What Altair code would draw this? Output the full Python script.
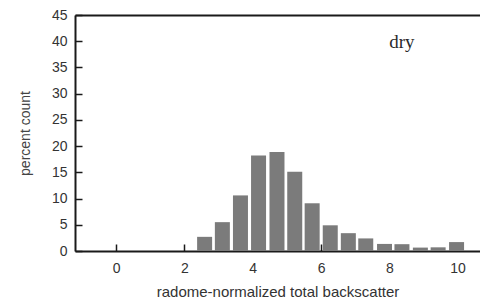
import altair as alt
import pandas as pd

# bin centres (x) and percent counts (y)
centers = [2.59, 3.11, 3.64, 4.17, 4.71, 5.23, 5.74, 6.27, 6.80, 7.31, 7.86, 8.37, 8.91, 9.43, 9.97]
percents = [2.7, 5.5, 10.6, 18.2, 18.9, 15.1, 9.1, 4.9, 3.4, 2.4, 1.35, 1.3, 0.65, 0.7, 1.7]
x_ticks = [0, 2, 4, 6, 8, 10]
y_ticks = [0, 5, 10, 15, 20, 25, 30, 35, 40, 45]
label_text = ["dry"]
label_x = [8.37]
label_y = [38.8]

df = pd.DataFrame({"x": centers, "y": percents})
lab = pd.DataFrame({"x": label_x, "y": label_y, "t": label_text})

xdom = [-1.06, 10.51]
ydom = [0, 45]
xscale = alt.Scale(domain=xdom, nice=False, zero=False)
yscale = alt.Scale(domain=ydom, nice=False)
AX = "#1a1a1a"

bars = alt.Chart(df).mark_bar(color="#7b7b7b", size=15).encode(
    x=alt.X("x:Q", scale=xscale, axis=alt.Axis(
        orient="bottom", values=x_ticks, ticks=False, tickSize=0, grid=False,
        domainColor=AX, domainWidth=2, labelFont="Liberation Sans", labelFontSize=14,
        labelColor="#333333", labelPadding=10,
        title="radome-normalized total backscatter", titleFont="Liberation Sans",
        titleFontSize=15, titleFontWeight="normal", titleColor="#333333", titlePadding=9)),
    y=alt.Y("y:Q", scale=yscale, axis=alt.Axis(
        orient="left", values=y_ticks, ticks=False, tickSize=0, grid=False,
        domainColor=AX, domainWidth=2, labelFont="Liberation Sans", labelFontSize=14,
        labelColor="#333333", labelPadding=8,
        title="percent count", titleFont="Liberation Sans", titleFontSize=14,
        titleFontWeight="normal", titleColor="#444444", titlePadding=19)),
)

# top border + inward y ticks
frame = alt.Chart(df).mark_point(opacity=0).encode(
    x=alt.X("x:Q", scale=xscale, axis=alt.Axis(
        orient="top", labels=False, ticks=False, grid=False, title=None,
        domainColor=AX, domainWidth=2)),
    y=alt.Y("y:Q", scale=yscale, axis=alt.Axis(
        orient="left", values=y_ticks, offset=-7, domain=False, labels=False,
        ticks=True, tickSize=7, tickWidth=1.5, tickColor=AX, grid=False, title=None)),
)

# inward x ticks
xticks = alt.Chart(df).mark_point(opacity=0).encode(
    x=alt.X("x:Q", scale=xscale, axis=alt.Axis(
        orient="bottom", values=x_ticks, offset=-7, domain=False, labels=False,
        ticks=True, tickSize=7, tickWidth=1.5, tickColor=AX, grid=False, title=None)),
    y=alt.Y("y:Q", scale=yscale, axis=None),
)

text = alt.Chart(lab).mark_text(
    font="Liberation Serif", fontSize=19, color="#2a2a2a", baseline="alphabetic", align="center"
).encode(
    x=alt.X("x:Q", scale=xscale, axis=None),
    y=alt.Y("y:Q", scale=yscale, axis=None),
    text="t:N",
)

chart = alt.layer(bars, frame, xticks, text).resolve_axis(
    x="independent", y="independent"
).properties(
    width=405, height=236,
    autosize=alt.AutoSizeParams(type="none"),
    padding={"left": 67, "top": 7, "right": 0, "bottom": 50},
).configure_view(stroke=None)

chart.save("out.html", embed_options={"renderer": "svg", "actions": False})
